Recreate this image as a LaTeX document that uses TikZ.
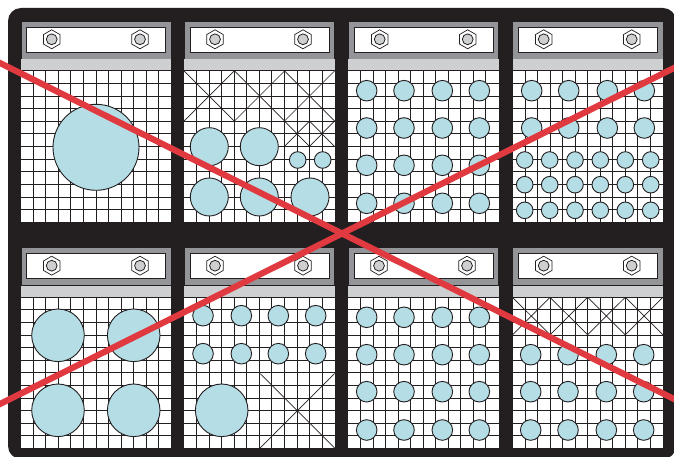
\documentclass[tikz,border=0pt]{standalone}
\definecolor{frameblack}{HTML}{231F20}
\definecolor{headgray}{HTML}{939598}
\definecolor{lightgray2}{HTML}{CDCFD1}
\definecolor{holeblue}{HTML}{B5DDE5}
\definecolor{crossred}{HTML}{E0393F}
\tikzset{
  gridline/.style={draw=frameblack,line width=1pt},
  hole/.style={draw=frameblack,line width=0.9pt,fill=holeblue},
  crossline/.style={draw=frameblack,line width=0.7pt},
  redline/.style={draw=crossred,line width=6.2pt},
}
% panel: left, top of header
\newcommand{\panelbase}[2]{%
  \fill[headgray,draw=frameblack,line width=0.5pt] (#1,#2) rectangle ++(150.5,38);
  \fill[white,draw=frameblack,line width=1pt] (#1+6,#2+6.3) rectangle ++(139,25);
  \fill[lightgray2] (#1,#2+38.5) rectangle ++(150.5,11.5);
  \fill[white] (#1,#2+50) rectangle ++(150.5,151.5);
  \foreach \k in {1,...,12} {
    \draw[gridline] (#1,#2+50+12.6*\k) -- ++(150.5,0);
  }
  \foreach \k in {1,...,11} {
    \draw[gridline] (#1+12.54*\k,#2+50) -- ++(0,151.2);
  }
  \draw[gridline] (#1,#2+50) -- ++(150.5,0);
}
\newcommand{\bolt}[2]{%
  \draw[fill=white,line width=0.7pt,draw=frameblack] (#1,#2-9.5) -- ++(8.2,4.75) -- ++(0,9.5) -- ++(-8.2,4.75) -- ++(-8.2,-4.75) -- ++(0,-9.5) -- cycle;
  \draw[fill=lightgray2,line width=0.8pt,draw=frameblack] (#1,#2) circle (5.4);
}
\newcommand{\xbox}[4]{\draw[crossline] (#1,#2) -- (#3,#4) (#1,#4) -- (#3,#2);}
\begin{document}
\begin{tikzpicture}[x=1pt,y=-1pt]
\useasboundingbox (0,0) rectangle (674,457);
\fill[white] (0,0) rectangle (674,457);
\fill[frameblack,rounded corners=13pt] (8,8) rectangle (676,459);
% panels
\foreach \x in {20.8,184.2,348,512.5} {\panelbase{\x}{21}}
\foreach \x in {20.8,184.2,348,512.5} {\panelbase{\x}{247.3}}
% bolts
\foreach \x/\y in {51.7/39.3,140/39.3,215/39.3,303/39.3,379.7/39.3,467.7/39.3,543.7/39.3,631.7/39.3,
  51.7/265.7,140/265.7,215/265.7,303/265.7,379/265.7,467/265.7,543.7/265.7,631.7/265.7} {\bolt{\x}{\y}}
% crosses
\foreach \a in {184.2,234.5,284.5} {\pgfmathsetmacro{\b}{\a+50}\xbox{\a}{71}{\b}{121}}
\foreach \a in {284.5,309.5} {\pgfmathsetmacro{\b}{\a+25}\xbox{\a}{121}{\b}{146.5}}
\xbox{260}{373.5}{334.7}{448}
\foreach \a in {512.5,550,587.6,625.3} {\pgfmathsetmacro{\b}{\a+37.6}\xbox{\a}{297.3}{\b}{334.8}}
% holes
\draw[hole] (96,147.3) circle (43);
\foreach \x/\y in {209.3/146.7,259.3/146.7,209.3/197,259.3/197,310/197} {\draw[hole] (\x,\y) circle (19);}
\foreach \x in {297.7,322.7} {\draw[hole] (\x,160) circle (8.3);}
\foreach \x in {366.7,404,442.3,479.3} \foreach \y in {90.7,128,165.3,203.3} {\draw[hole] (\x,\y) circle (10.3);}
\foreach \x in {531.7,568.7,607.3,644.3} \foreach \y in {90.7,128} {\draw[hole] (\x,\y) circle (10.3);}
\foreach \x in {524.7,549.7,575,600.3,625.3,650.7} \foreach \y in {160,184.7,210.3} {\draw[hole] (\x,\y) circle (8.3);}
\foreach \x in {58,133.7} \foreach \y in {335.3,410.3} {\draw[hole] (\x,\y) circle (26.3);}
\foreach \x in {203,241.3,278.3,315.7} \foreach \y in {315.7,353.7} {\draw[hole] (\x,\y) circle (10.3);}
\draw[hole] (221.7,410.3) circle (26.3);
\foreach \x in {366.7,404,442.3,479.3} \foreach \y in {317.3,354.7,391.7,430} {\draw[hole] (\x,\y) circle (10.3);}
\foreach \x in {530.7,568,606.3,643.7} \foreach \y in {354.7,391.7,430} {\draw[hole] (\x,\y) circle (10.3);}
% red cross
\draw[redline] (-2,62) -- (676,400);
\draw[redline] (-2,405) -- (676,67);
\end{tikzpicture}
\end{document}
